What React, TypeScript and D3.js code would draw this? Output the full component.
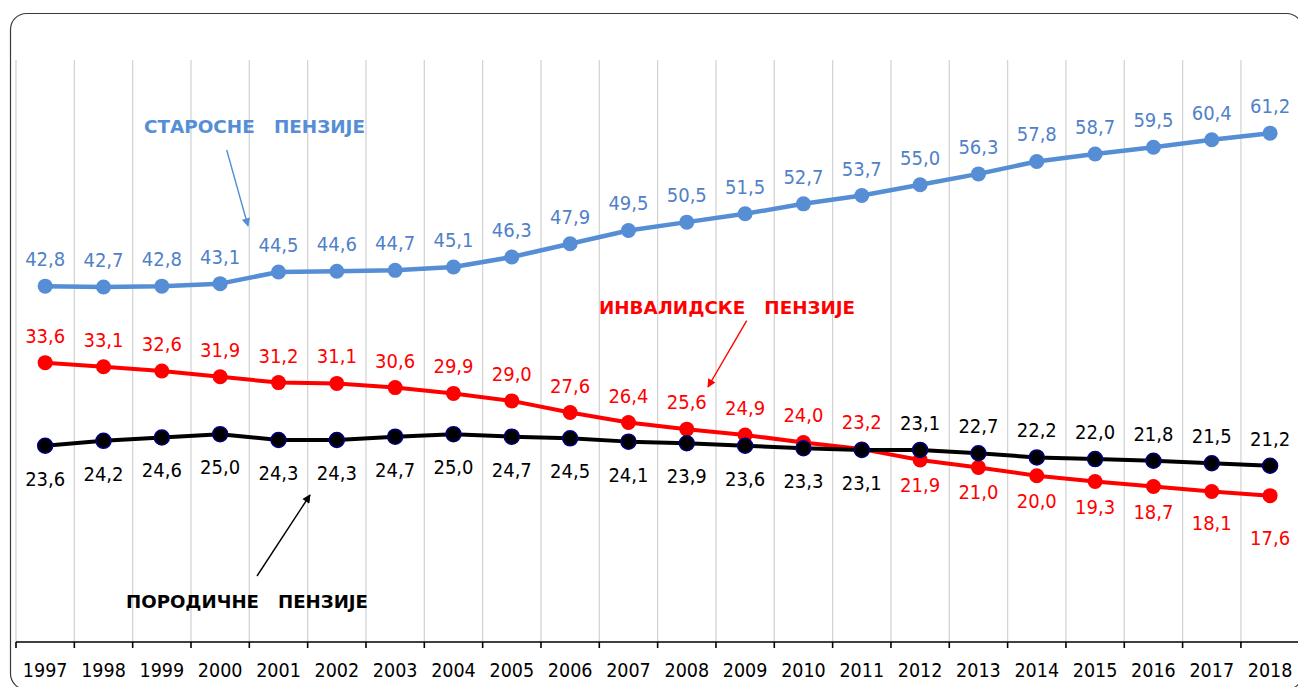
import React, { useEffect, useRef } from 'react';
import * as d3 from 'd3';

const years = ['1997', '1998', '1999', '2000', '2001', '2002', '2003', '2004', '2005', '2006', '2007',
  '2008', '2009', '2010', '2011', '2012', '2013', '2014', '2015', '2016', '2017', '2018'];

const starosne = [42.8, 42.7, 42.8, 43.1, 44.5, 44.6, 44.7, 45.1, 46.3, 47.9, 49.5,
  50.5, 51.5, 52.7, 53.7, 55.0, 56.3, 57.8, 58.7, 59.5, 60.4, 61.2];
const invalidske = [33.6, 33.1, 32.6, 31.9, 31.2, 31.1, 30.6, 29.9, 29.0, 27.6, 26.4,
  25.6, 24.9, 24.0, 23.2, 21.9, 21.0, 20.0, 19.3, 18.7, 18.1, 17.6];
const porodicne = [23.6, 24.2, 24.6, 25.0, 24.3, 24.3, 24.7, 25.0, 24.7, 24.5, 24.1,
  23.9, 23.6, 23.3, 23.1, 23.1, 22.7, 22.2, 22.0, 21.8, 21.5, 21.2];

const seriesNames = ['СТАРОСНЕ   ПЕНЗИЈЕ', 'ИНВАЛИДСКЕ   ПЕНЗИЈЕ', 'ПОРОДИЧНЕ   ПЕНЗИЈЕ'];

const FONT = "'DejaVu Sans Condensed', 'DejaVu Sans', sans-serif";
const W = 1298, H = 687;

function App() {
  const ref = useRef<SVGSVGElement>(null);

  useEffect(() => {
    const svg = d3.select(ref.current);
    svg.selectAll('*').remove();

    // plot area
    const left = 16, right = 16 + 58.33 * years.length, top = 60, bottom = 642;

    const x = d3.scaleBand().domain(years).range([left, right]);
    const y = d3.scaleLinear().domain([0, 70]).range([bottom, top]);
    const cx = (i: number) => x(years[i])! + x.bandwidth() / 2;

    const defs = svg.append('defs');
    [['arrBlue', '#558ED5'], ['arrRed', '#FF0000'], ['arrBlack', '#000000']].forEach(([id, c]) => {
      defs.append('marker')
        .attr('id', id)
        .attr('viewBox', '0 0 10 10')
        .attr('refX', 9).attr('refY', 5)
        .attr('markerWidth', 7).attr('markerHeight', 6)
        .attr('orient', 'auto')
        .append('path').attr('d', 'M0,0 L10,5 L0,10 z').attr('fill', c);
    });

    svg.append('rect').attr('width', W).attr('height', H).attr('fill', '#fff');

    // outer rounded border
    svg.append('rect')
      .attr('x', 10.5).attr('y', 13.5)
      .attr('width', 1292).attr('height', 676)
      .attr('rx', 16).attr('ry', 16)
      .attr('fill', 'none').attr('stroke', '#3a3a3a').attr('stroke-width', 1.2);

    // vertical gridlines at category boundaries
    const bounds = years.map((d) => x(d)!);
    svg.append('g').selectAll('line').data(bounds).enter().append('line')
      .attr('x1', (d) => d).attr('x2', (d) => d)
      .attr('y1', top).attr('y2', bottom)
      .attr('stroke', '#d4d4d4').attr('stroke-width', 1.3);

    // x axis
    svg.append('line')
      .attr('x1', left).attr('x2', W).attr('y1', bottom).attr('y2', bottom)
      .attr('stroke', '#000').attr('stroke-width', 1.6);
    svg.append('g').selectAll('line').data(bounds).enter().append('line')
      .attr('x1', (d) => d).attr('x2', (d) => d)
      .attr('y1', bottom).attr('y2', bottom + 6)
      .attr('stroke', '#000').attr('stroke-width', 1.6);
    svg.append('g').selectAll('text').data(years).enter().append('text')
      .attr('x', (d) => x(d)! + x.bandwidth() / 2)
      .attr('y', 677)
      .attr('text-anchor', 'middle')
      .attr('font-family', FONT).attr('font-size', 19.5).attr('fill', '#000')
      .text((d) => d);

    const fmt = (v: number) => d3.format('.1f')(v).replace('.', ',');

    const series = [
      { key: 'blue', values: starosne, color: '#558ED5', text: '#4F81C9', stroke: 'none', width: 4.5,
        pos: (i: number) => 'a' },
      { key: 'red', values: invalidske, color: '#FF0000', text: '#FF0000', stroke: 'none', width: 4,
        pos: (i: number) => (i <= 14 ? 'a' : 'b') },
      { key: 'black', values: porodicne, color: '#000000', text: '#000000', stroke: '#000080', width: 4,
        pos: (i: number) => (i <= 14 ? 'b' : 'a') },
    ];

    // extra nudges for a few labels (Excel manual placement)
    const nudge: Record<string, number> = { 'red-20': 6, 'red-21': 17 };

    const line = d3.line<number>().x((d, i) => cx(i)).y((d) => y(d));

    series.forEach((s) => {
      const g = svg.append('g');
      g.append('path').datum(s.values)
        .attr('d', line)
        .attr('fill', 'none').attr('stroke', s.color).attr('stroke-width', s.width)
        .attr('stroke-linejoin', 'round');
      g.selectAll('circle').data(s.values).enter().append('circle')
        .attr('cx', (d, i) => cx(i)).attr('cy', (d) => y(d))
        .attr('r', 7.5)
        .attr('fill', s.color)
        .attr('stroke', s.stroke).attr('stroke-width', 1.5);

      s.values.forEach((v, i) => {
        const p = s.pos(i);
        let dy = p === 'a' ? -20 : (s.key === 'black' ? 40 : 32);
        dy += nudge[s.key + '-' + i] || 0;
        const t = svg.append('text')
          .attr('x', cx(i)).attr('y', y(v) + dy)
          .attr('text-anchor', 'middle')
          .attr('font-family', FONT).attr('font-size', 20).attr('fill', s.text)
          .text(fmt(v));
        if (s.key === 'red' && i === 20) {
          const b = (t.node() as SVGTextElement).getBBox();
          svg.insert('rect', () => t.node())
            .attr('x', b.x - 3).attr('y', b.y - 2)
            .attr('width', b.width + 6).attr('height', b.height + 4)
            .attr('fill', '#fff');
        }
      });
    });

    // annotations
    const notes = [
      { text: seriesNames[0], color: '#558ED5', x: 144, y: 133, w: 221, arrow: [226.7, 150, 248, 226], m: 'arrBlue', sw: 1.4 },
      { text: seriesNames[1], color: '#FF0000', x: 599, y: 314, w: 256, arrow: [746.7, 320.7, 708, 387], m: 'arrRed', sw: 1.4 },
      { text: seriesNames[2], color: '#000000', x: 126, y: 608, w: 242, arrow: [257, 576, 310, 495], m: 'arrBlack', sw: 1.4 },
    ];
    notes.forEach((n) => {
      svg.append('text')
        .attr('x', n.x).attr('y', n.y)
        .attr('font-family', FONT).attr('font-weight', 'bold').attr('font-size', 18.5)
        .attr('fill', n.color)
        .attr('textLength', n.w).attr('lengthAdjust', 'spacingAndGlyphs')
        .style('white-space', 'pre')
        .text(n.text);
      svg.append('line')
        .attr('x1', n.arrow[0]).attr('y1', n.arrow[1])
        .attr('x2', n.arrow[2]).attr('y2', n.arrow[3])
        .attr('stroke', n.color).attr('stroke-width', n.sw)
        .attr('marker-end', 'url(#' + n.m + ')');
    });
  }, []);

  return (
    <div style={{ position: 'absolute', left: 0, top: 0 }}>
      <svg ref={ref} width={W} height={H} style={{ display: 'block' }}></svg>
    </div>
  );
}

export default App;
